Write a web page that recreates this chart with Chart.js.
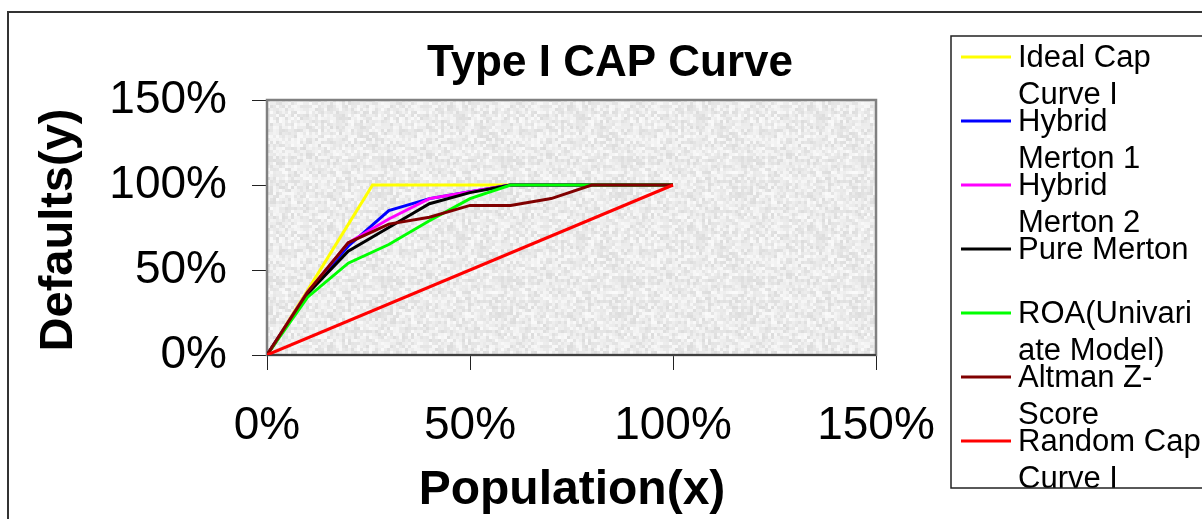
<!DOCTYPE html>
<html>
<head>
<meta charset="utf-8">
<script src="https://cdn.jsdelivr.net/npm/chart.js@4.4.1/dist/chart.umd.min.js"></script>
<style>
  body { margin: 0; background: #fff; }
  #wrap { width: 1202px; height: 519px; }
</style>
</head>
<body>
<div id="wrap"><canvas id="capChart" width="1202" height="519"></canvas></div>
<script>
// Population share (x, %) and cumulative defaults (y, %) for each curve
var xIdeal = [0, 10, 26, 100];
var yIdeal = [0, 38, 100, 100];
var xSteps = [0, 10, 20, 30, 40, 50, 60, 70, 80, 90, 100];
var yHybrid1 = [0, 37, 64, 85, 92, 96, 100, 100, 100, 100, 100];
var yHybrid2 = [0, 37, 66, 80, 92, 96, 100, 100, 100, 100, 100];
var yPureMerton = [0, 36, 61, 75, 89, 95.5, 100, 100, 100, 100, 100];
var yROA = [0, 34, 54, 65, 79, 92, 100, 100, 100, 100, 100];
var yAltman = [0, 37, 66, 77, 81, 88, 88, 92, 100, 100, 100];
var xRandom = [0, 100];
var yRandom = [0, 100];

var tickValues = [0, 50, 100, 150];

var seriesNames = ['Ideal Cap Curve I', 'Hybrid Merton 1', 'Hybrid Merton 2', 'Pure Merton',
    'ROA(Univariate Model)', 'Altman Z-Score', 'Random Cap Curve I'];
var legendLines = [['Ideal Cap', 'Curve I'], ['Hybrid', 'Merton 1'], ['Hybrid', 'Merton 2'],
    ['Pure Merton', ''], ['ROA(Univari', 'ate Model)'], ['Altman Z-', 'Score'], ['Random Cap', 'Curve I']];
var seriesColors = ['#ffff00', '#0000ff', '#ff00ff', '#000000', '#00ff00', '#800000', '#ff0000'];

function pts(xs, ys) {
    return xs.map(function(x, i) { return { x: x, y: ys[i] }; });
}

var seriesData = [
    pts(xIdeal, yIdeal),
    pts(xSteps, yHybrid1),
    pts(xSteps, yHybrid2),
    pts(xSteps, yPureMerton),
    pts(xSteps, yROA),
    pts(xSteps, yAltman),
    pts(xRandom, yRandom)
];

// light granite-like fill for the plot area
function makeTexture(ctx) {
    var c = document.createElement('canvas');
    c.width = 120; c.height = 120;
    var g = c.getContext('2d');
    for (var i = 0; i < 40; i++) {
        for (var j = 0; j < 40; j++) {
            var h = Math.sin(i * 12.9898 + j * 78.233) * 43758.5453;
            h = h - Math.floor(h);
            var v = Math.round(220 + h * 30);
            g.fillStyle = 'rgb(' + v + ',' + v + ',' + v + ')';
            g.fillRect(i * 3, j * 3, 3, 3);
        }
    }
    return ctx.createPattern(c, 'repeat');
}

var font = 'Liberation Sans, Arial, sans-serif';

var decorPlugin = {
    id: 'decor',
    beforeDraw: function(chart) {
        var ctx = chart.ctx;
        var a = chart.chartArea;
        ctx.save();
        // outer frame
        ctx.strokeStyle = '#333';
        ctx.lineWidth = 2;
        ctx.beginPath();
        ctx.moveTo(8, 519);
        ctx.lineTo(8, 12);
        ctx.lineTo(1202, 12);
        ctx.stroke();

        // plot background
        ctx.fillStyle = makeTexture(ctx);
        ctx.fillRect(a.left, a.top, a.right - a.left, a.bottom - a.top);

        // title
        ctx.fillStyle = '#000';
        ctx.textAlign = 'center';
        ctx.textBaseline = 'alphabetic';
        ctx.font = 'bold 44px ' + font;
        ctx.fillText('Type I CAP Curve', 610, 76);

        // axis titles
        ctx.font = 'bold 48px ' + font;
        ctx.fillText('Population(x)', 572, 504);
        ctx.save();
        ctx.translate(72, 230);
        ctx.rotate(-Math.PI / 2);
        ctx.font = 'bold 47px ' + font;
        ctx.fillText('Defaults(y)', 0, 0);
        ctx.restore();

        // legend box
        ctx.save();
        ctx.beginPath();
        ctx.rect(951, 36, 260, 452);
        ctx.fillStyle = '#fff';
        ctx.fill();
        ctx.clip();
        ctx.font = '31px ' + font;
        ctx.textAlign = 'left';
        ctx.textBaseline = 'middle';
        for (var k = 0; k < legendLines.length; k++) {
            var y = 57 + 64 * k;
            ctx.strokeStyle = seriesColors[k];
            ctx.lineWidth = 3;
            ctx.beginPath();
            ctx.moveTo(961, y);
            ctx.lineTo(1011, y);
            ctx.stroke();
            ctx.fillStyle = '#000';
            ctx.fillText(legendLines[k][0], 1018, y + 1);
            ctx.fillText(legendLines[k][1], 1018, y + 38);
        }
        ctx.restore();
        ctx.strokeStyle = '#222';
        ctx.lineWidth = 1.5;
        ctx.strokeRect(951, 36, 300, 452);
        ctx.restore();
    },
    beforeDatasetsDraw: function(chart) {
        var ctx = chart.ctx;
        var a = chart.chartArea;
        ctx.save();
        ctx.strokeStyle = '#808080';
        ctx.lineWidth = 2.5;
        ctx.strokeRect(a.left, a.top, a.right - a.left, a.bottom - a.top);
        ctx.strokeStyle = '#404040';
        ctx.lineWidth = 2;
        ctx.beginPath();
        ctx.moveTo(a.left, a.bottom);
        ctx.lineTo(a.right, a.bottom);
        ctx.stroke();
        ctx.restore();
    }
};

function setTicks(scale) {
    scale.ticks = tickValues.map(function(v) { return { value: v }; });
}

var tickFont = { family: font, size: 46 };

new Chart(document.getElementById('capChart'), {
    type: 'line',
    data: {
        datasets: seriesData.map(function(d, i) {
            return {
                label: seriesNames[i],
                data: d,
                borderColor: seriesColors[i],
                backgroundColor: seriesColors[i],
                borderWidth: 3,
                pointRadius: 0,
                tension: 0,
                fill: false,
                order: seriesData.length - i
            };
        })
    },
    options: {
        responsive: false,
        animation: false,
        layout: { padding: { top: 100, right: 326, left: 0, bottom: 0 } },
        plugins: {
            legend: { display: false },
            tooltip: { enabled: false }
        },
        scales: {
            x: {
                type: 'linear',
                position: 'bottom',
                min: 0,
                max: 150,
                afterBuildTicks: setTicks,
                afterFit: function(s) { s.height = 164; },
                border: { display: false },
                grid: { drawOnChartArea: false, drawTicks: true, tickLength: 15, color: '#222', lineWidth: 1 },
                ticks: {
                    padding: 29, color: '#000', font: tickFont, maxRotation: 0, autoSkip: false,
                    callback: function(v) { return v + '%'; }
                }
            },
            y: {
                type: 'linear',
                position: 'left',
                min: 0,
                max: 150,
                afterBuildTicks: setTicks,
                afterFit: function(s) { s.width = 267; },
                border: { display: false },
                grid: { drawOnChartArea: false, drawTicks: true, tickLength: 15, color: '#222', lineWidth: 1 },
                ticks: {
                    padding: 25, color: '#000', font: tickFont, autoSkip: false,
                    callback: function(v) { return v + '%'; }
                }
            }
        }
    },
    plugins: [decorPlugin]
});
</script>
</body>
</html>
